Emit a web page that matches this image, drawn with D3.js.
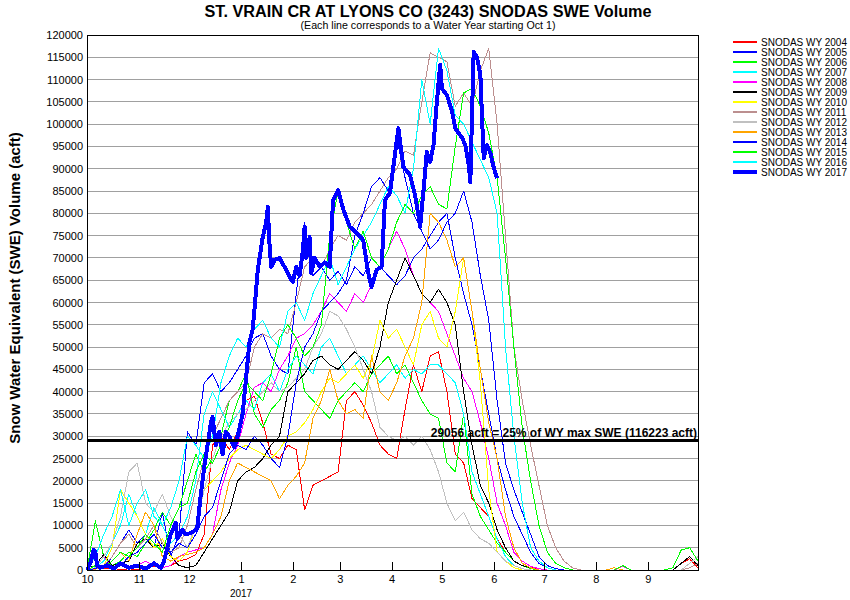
<!DOCTYPE html>
<html>
<head>
<meta charset="utf-8">
<script src="https://cdn.jsdelivr.net/npm/d3@7"></script>
<style>
  body { margin: 0; background: #fff; }
  svg { font-family: "Liberation Sans", Arial, sans-serif; }
</style>
</head>
<body>
<div id="chart"></div>
<script>
var width = 850,
    height = 600;

// month starts, counted in days from Oct 1
var monthStart = [0, 31, 61, 92, 123, 151, 182, 212, 243, 273, 304, 335];
var monthLabels = ["10", "11", "12", "1", "2", "3", "4", "5", "6", "7", "8", "9"];
var yTicks = d3.range(0, 120001, 5000);

var wyYears = [2004, 2005, 2006, 2007, 2008, 2009, 2010, 2011, 2012, 2013, 2014, 2015, 2016, 2017];
var wyColors = ["#ff0000", "#0000ff", "#00ff00", "#00ffff", "#ff00ff", "#000000", "#ffff00",
                "#bc8f8f", "#c0c0c0", "#ffa500", "#0000ff", "#00ff00", "#00ffff", "#0000ff"];

// SWE in thousand acft, one value every 5 days from Oct 1 (day 0 .. 365)
var stepDays = 5;
var swe2004 = [0,0.5,0.3,0.5,0,0.3,0,0.5,0.8,0.5, 1,2,2.5,3.5,8,28,30,27,31,38,
  39,33,26,25,28,27,13.5,19,20,21, 22,38,40,37,33,28,26,25,36,46,
  40,48,49,40,26,24,16,14,12,7, 4,2,1,0.5,0.3,0,0,0,0,0, 0,0,0,0,0,0,0,0,0,0, 0,1.5,2.5,0.5];
var swe2005 = [0.5,1,0.5,3,6,9,6,8,5,13, 3,8,31,28,42,44,40,42,45,48,
  52,53,48,45,44,62,78,66,68,65, 67,64,68,66,70,68,66,64,66,70,
  72,75,78,80,70,62,55,45,35,25, 18,12,8,4,1.5,0.5,0,0,0,0, 0,0,0,0,0,0,0,0,0,0, 0,0,0,0];
var swe2006 = [0,11,3,1,2,4,3,6,9,13, 10,14,20,26,22,25,30,38,40,44,
  35,32,36,38,42,50,40,38,36,34, 38,40,42,40,44,46,48,44,46,42,
  38,35,34,24,22,35,17,12,9,6, 4,2,1,0.3,0,0,0,0,0,0, 0,0,0,0,0,0,0,0,0,0, 0,0,0,0];
var swe2007 = [0,0.5,2,6,10,17,12,8,14,10, 6,8,12,20,35,40,36,32,35,38,
  36,42,44,40,45,48,46,44,50,52, 48,44,46,48,45,42,44,46,43,45,
  44,46,46,44,42,35,22,17,12,7, 3,1,0.3,0,0,0,0,0,0,0, 0,0,0,0,0,0,0,0,0,0, 0,0,0,0];
var swe2008 = [0,0.5,3,0.5,1.5,0.5,1,2,1,0.5, 1,3,4,4.5,5,8,18,24,28,35,
  41,42,40,45,48,52,53,55,58,62, 60,58,62,60,64,68,72,76,72,66,
  62,60,58,53,48,43,40,33,25,15, 10,4,2,0.8,0.3,0,0,0,0,0, 0,0,0,0,0.8,0,0,0,0,0, 0,0,0,0];
var swe2009 = [0.5,1,3.5,1,1.5,2,6,7,5,6, 3,1,0.5,1,4,7,10,13,20,22,
  23,25,28,30,40,42,44,47,48,46, 45,47,49,47,44,50,60,65,70,66,
  62,60,63,60,55,40,28,19,15,9, 5,2,1,0.5,0,0,0,0,0,0, 0,0,0,0,0,0,0,0,0,0, 0,1.5,3,1];
var swe2010 = [0,0.3,1,5,18,15,12,8,5,7, 3,2,4,10,18,20,22,25,27,28,
  27,26,25,27,30,31,33,36,40,43, 42,44,46,43,47,56,52,54,50,46,
  55,58,52,50,58,70,58,42,18,4, 2,0.5,0,0,0,0,0,0,0,0, 0,0,0,0,0,0,0,0,0,0, 0,0,0,0];
var swe2011 = [0,0.5,1,3,6,8,5,7,10,6, 4,5,10,18,25,30,34,38,40,42,
  50,53,52,54,53,60,68,70,68,72, 75,74,78,80,82,85,88,90,94,93,
  105,116,115,114,104,107,104,112,117,100, 75,50,38,28,19,10,5,2,0.5,0, 0,0,0,0,0,0,0,0,0,0, 0,0,0.5,1.5];
var swe2012 = [0,0.5,3,6,12,22,24,15,13,17, 12,8,5,10,18,25,30,33,35,36,
  38,40,42,40,41,43,45,50,53,58, 57,54,50,45,40,32,30,29,30,28,
  30,27,22,15,11,13,9,7,6,4, 2,1,0.3,0,0,0,0,0,0,0, 0,0,0,0,0,0,0,0,0,0, 0,0,1.5,3];
var swe2013 = [0,0.2,0.5,2,4,2,8,13,10,3, 2,3,3.5,4,5,8,12,20,24,23,
  22,21,20,16,19,21,24,34,38,45, 38,35,36,34,48,40,38,42,48,52,
  60,80,78,74,68,70,58,45,33,25, 12,5,1.5,0.5,0,0,0,0,0,0, 0,0,0,0.5,0,0,0,0,0,0, 0,0,0,0];
var swe2014 = [0,0.3,1,0.5,1,3,4,6,8,5, 4,6,5,8,12,14,20,26,28,27,
  30,28,25,23,30,42,50,53,58,60, 62,65,75,80,86,88,85,97,88,80,
  76,72,74,78,80,85,78,66,56,38, 24,18,13,8,3,1,0.3,0,0,0, 0,0,0,0,0,0,0,0,0,0, 0,0,0,0];
var swe2015 = [0,1,0.5,2,4,3,5,8,6,4, 10,14,15,22,26,24,28,32,38,42,
  40,38,44,52,55,52,48,50,55,75, 85,78,72,76,70,68,72,78,82,80,
  84,86,82,81,95,107,108,104,98,88, 70,50,32,20,10,4,1.5,0.5,0,0, 0,0,0,0,1,0,0,0,0,0, 0.5,4.5,5,2];
var swe2016 = [0.5,3,8,12,18,10,15,18,12,10, 14,20,30,28,25,30,42,48,52,50,
  54,56,52,50,58,60,56,62,66,70, 64,68,72,75,78,82,86,84,80,90,
  110,100,117,112,102,100,96,92,88,80, 50,30,15,5,2,0.5,0,0,0,0, 0,0,0,0,0,0,0,0,0,0, 0,0,0,0];

// WY 2017 is read at uneven days (it stops in early June)
var days2017 = [0,2,4,5,6,8,12,16,20,25,30,35,40,44,46,48,50,53,54,57,59,62,65,66,68,70,72,74,75,77,
  79,81,83,85,88,90,93,95,97,99,100,102,105,107,108,109,110,112,115,118,121,123,125,127,129,130,131,133,134,136,
  139,142,145,147,150,153,157,161,165,168,170,173,176,178,181,183,186,189,193,196,198,199,201,203,205,207,209,211,212,215,
  218,220,222,224,226,228,229,230,231,233,235,236,237,239,241,243,245];
var swe2017 = [0,1.5,4.5,4,1,0.5,1,0.3,1.5,0.5,1,0.3,1.5,0.5,2,5,8,10.5,7,9,8,8.3,9,10,17,23,28,33,34.3,28,
  31,26,31,30,27.5,30,35,43,51,54,58.3,67.3,74.7,77.8,81.4,73.3,68,69.5,70,68,65.7,64.6,68,66,71.8,77,70,74.7,66.6,70,
  68,69,68,83,85.2,81,77,75.6,74,66.6,63.5,67.3,68,83,84.6,90.4,99.1,90.4,88.6,84,79.6,77,85,93.8,91.5,95.3,105,113.3,108,106.5,
  103,99.1,98,97,95.3,91,87,102,116.2,115,111,101.4,92.4,95.3,93.5,90.2,87.9];

var wySwe = [swe2004, swe2005, swe2006, swe2007, swe2008, swe2009, swe2010,
             swe2011, swe2012, swe2013, swe2014, swe2015, swe2016];

var threshold = 29056;
var wyMax = 116223;

var series = wyYears.map(function(yr, i) {
  var pts;
  if (yr == 2017) {
    pts = days2017.map(function(d, j) { return {day: d, swe: swe2017[j]*1000}; });
  } else {
    pts = wySwe[i].map(function(v, j) { return {day: j*stepDays, swe: v*1000}; });
  }
  return {year: yr, color: wyColors[i], points: pts};
});

var svg = d3.select("#chart")
    .append("svg")
    .attr("width", width)
    .attr("height", height);

var x = d3.scaleLinear().domain([0, 365]).range([87, 698]);
var y = d3.scaleLinear().domain([0, 120000]).range([570, 35]);

// grid
svg.append("g")
  .selectAll("line")
  .data(yTicks)
  .enter().append("line")
    .attr("x1", x(0)).attr("x2", x(365))
    .attr("y1", function(d) { return y(d); })
    .attr("y2", function(d) { return y(d); })
    .attr("stroke", "#a0a0a0")
    .attr("shape-rendering", "crispEdges");

// y labels
var yAxis = svg.append("g")
  .attr("transform", "translate(" + x(0) + ",0)")
  .call(d3.axisLeft(y).tickValues(yTicks).tickFormat(d3.format("d")).tickSize(0).tickPadding(4));
yAxis.select(".domain").remove();
yAxis.selectAll("text").attr("font-size", "11px").attr("fill", "#000")
  .attr("font-family", "'Liberation Sans', Arial, sans-serif");

// lines
var line = d3.line()
  .x(function(d) { return x(d.day); })
  .y(function(d) { return y(d.swe); });

svg.append("g")
  .selectAll("path")
  .data(series)
  .enter().append("path")
    .attr("d", function(d) { return line(d.points); })
    .attr("fill", "none")
    .attr("stroke", function(d) { return d.color; })
    .attr("stroke-width", function(d) { return d.year == 2017 ? 4 : 1; })
    .attr("stroke-linejoin", "round")
    .attr("shape-rendering", "crispEdges");

// threshold
svg.append("line")
  .attr("x1", x(0)).attr("x2", x(365))
  .attr("y1", y(threshold)).attr("y2", y(threshold))
  .attr("stroke", "#000")
  .attr("stroke-width", 3)
  .attr("shape-rendering", "crispEdges");

svg.append("text")
  .attr("x", x(365) - 1)
  .attr("y", y(threshold) - 3)
  .attr("text-anchor", "end")
  .attr("font-size", "12px")
  .attr("font-weight", "bold")
  .text(threshold + " acft = 25% of WY max SWE (" + wyMax + " acft)");

// frame
svg.append("rect")
  .attr("x", x(0)).attr("y", y(120000))
  .attr("width", x(365) - x(0)).attr("height", y(0) - y(120000))
  .attr("fill", "none")
  .attr("stroke", "#000")
  .attr("shape-rendering", "crispEdges");

// x axis
var xAxis = svg.append("g")
  .attr("transform", "translate(0," + y(0) + ")")
  .call(d3.axisBottom(x)
    .tickValues(monthStart)
    .tickFormat(function(d, i) { return monthLabels[i]; })
    .tickSize(-8)
    .tickPadding(5));
xAxis.select(".domain").attr("stroke", "#000");
xAxis.selectAll("line").attr("stroke", "#000").attr("shape-rendering", "crispEdges");
xAxis.selectAll("text").attr("font-size", "11px").attr("fill", "#000")
  .attr("font-family", "'Liberation Sans', Arial, sans-serif");

svg.append("text")
  .attr("x", x(monthStart[3]))
  .attr("y", 597)
  .attr("text-anchor", "middle")
  .attr("font-size", "10px")
  .text("2017");

// titles
svg.append("text")
  .attr("x", 428)
  .attr("y", 17)
  .attr("text-anchor", "middle")
  .attr("font-size", "16px")
  .attr("font-weight", "bold")
  .attr("textLength", 447)
  .attr("lengthAdjust", "spacingAndGlyphs")
  .text("ST. VRAIN CR AT LYONS CO (3243) SNODAS SWE Volume");

svg.append("text")
  .attr("x", 428)
  .attr("y", 29)
  .attr("text-anchor", "middle")
  .attr("font-size", "10px")
  .attr("textLength", 255)
  .attr("lengthAdjust", "spacingAndGlyphs")
  .text("(Each line corresponds to a Water Year starting Oct 1)");

svg.append("text")
  .attr("transform", "translate(20,288) rotate(-90)")
  .attr("text-anchor", "middle")
  .attr("font-size", "15px")
  .attr("font-weight", "bold")
  .text("Snow Water Equivalent (SWE) Volume (acft)");

// legend
var legend = svg.append("g")
  .selectAll("g")
  .data(series)
  .enter().append("g")
    .attr("transform", function(d, i) { return "translate(733," + (42 + i*10) + ")"; });

legend.append("line")
  .attr("x1", 0).attr("x2", 24)
  .attr("stroke", function(d) { return d.color; })
  .attr("stroke-width", function(d) { return d.year == 2017 ? 4 : 1.5; })
  .attr("shape-rendering", "crispEdges");

legend.append("text")
  .attr("x", 28)
  .attr("dy", "0.35em")
  .attr("font-size", "10px")
  .text(function(d) { return "SNODAS WY " + d.year; });
</script>
</body>
</html>
